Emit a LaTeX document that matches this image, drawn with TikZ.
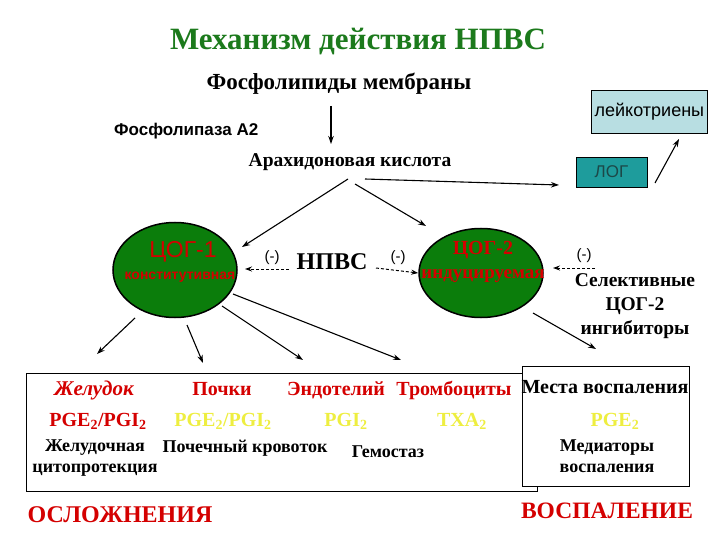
\documentclass[tikz,border=0pt]{standalone}
\usepackage{fontspec}
\setmainfont{Liberation Serif}
\newfontfamily\arialf{Liberation Sans}
\usetikzlibrary{arrows.meta,shapes.geometric}
\definecolor{ttlgreen}{HTML}{1C7A1C}
\definecolor{cogfill}{HTML}{0B7D0B}
\definecolor{redtxt}{HTML}{D40000}
\definecolor{yeltxt}{HTML}{EEEE40}
\definecolor{leukfill}{HTML}{B8DEE2}
\definecolor{logfill}{HTML}{1E9C9C}
\definecolor{logtxt}{HTML}{1C4848}
\newcommand{\fsz}[1]{\fontsize{#1}{#1}\selectfont}
\begin{document}
\begin{tikzpicture}[x=1pt,y=-1pt,
  arr/.style={line width=1.1pt,-{Stealth[length=8pt,width=5.5pt]}},
  darr/.style={line width=1pt,dashed,dash pattern=on 3pt off 2pt,-{Stealth[length=7pt,width=5pt]}},
  sb/.style={font=\bfseries\fsz{#1}, inner sep=0pt},
  sb2/.style={font=\bfseries\fontsize{#1}{21}\selectfont, inner sep=0pt, align=center},
  cog/.style={ellipse,draw=black,line width=1.5pt,fill=cogfill,inner sep=0pt},
  box/.style={draw=black,line width=1pt},
  minus/.style={font=\arialf\fsz{15},inner sep=0pt}]
\useasboundingbox (0,0) rectangle (720,540);

% title and top
\node[sb=31,text=ttlgreen] (title) at (358,42) {Механизм действия НПВС};
\node[sb=23] (phos) at (339,84) {Фосфолипиды мембраны};
\node[font=\arialf\bfseries\fsz{17},inner sep=0pt,anchor=west] (pla) at (114,131) {Фосфолипаза А2};
\node[sb=19.5] (arach) at (350,162) {Арахидоновая кислота};

\node[box,line width=0.8pt,fill=leukfill,minimum width=116pt,minimum height=43pt,inner sep=0pt,
  font=\arialf\fsz{18},anchor=north west] (leuk) at (591,90) {лейкотриены};
\node[box,line width=0.8pt,fill=logfill,minimum width=71pt,minimum height=30pt,inner sep=0pt,
  font=\arialf\fsz{17},text=logtxt] (log) at (611.5,172) {ЛОГ};

% COX ellipses
\node[cog,minimum width=124pt,minimum height=95pt] (cog1) at (175,270) {};
\node[cog,minimum width=124pt,minimum height=89pt] (cog2) at (481,273) {};
\node[font=\arialf\fsz{23},text=redtxt,inner sep=0pt] (cog1t) at (183,252) {ЦОГ-1};
\node[font=\arialf\bfseries\fsz{14},text=redtxt,inner sep=0pt] (cog1s) at (180,277) {конститутивная};
\node[sb=20,text=redtxt] (cog2t) at (483,250) {ЦОГ-2};
\node[sb=19,text=redtxt] (cog2s) at (483,276) {индуцируемая};

\node[sb=24] (npvs) at (332,262) {НПВС};
\node[minus] (m1) at (272,258) {(-)};
\node[minus] (m2) at (398,258) {(-)};
\node[minus] (m3) at (584,256) {(-)};
\node[font=\bfseries\fontsize{19.5}{24}\selectfont,inner sep=0pt,align=center] (sel) at (635,306) {Селективные\\ЦОГ-2\\ингибиторы};

% connectors top
\coordinate (p1) at (331,106);
\coordinate (p2) at (331,144);
\draw[arr] (p1) -- (p2);
\coordinate (a1s) at (348,179);
\coordinate (a1e) at (242,247);
\draw[arr] (a1s) -- (a1e);
\coordinate (a2s) at (355,184);
\coordinate (a2e) at (426,226);
\draw[arr] (a2s) -- (a2e);
\coordinate (a3s) at (365,179);
\coordinate (a3e) at (559,185);
\draw[arr] (a3s) -- (a3e);
\coordinate (l1s) at (655,183);
\coordinate (l1e) at (679,139);
\draw[arr] (l1s) -- (l1e);

% dashed inhibition arrows
\coordinate (d1s) at (289,269);
\coordinate (d1e) at (245,269);
\draw[darr] (d1s) -- (d1e);
\coordinate (d2s) at (376,268);
\draw[darr] (d2s) -- (cog2.west);
\coordinate (d3s) at (595,268);
\coordinate (d3e) at (553,268);
\draw[darr] (d3s) -- (d3e);

% arrows from COX
\coordinate (c1a) at (135,318); \coordinate (c1ae) at (97,354);
\coordinate (c1b) at (187,325); \coordinate (c1be) at (203,363);
\coordinate (c1c) at (222,306); \coordinate (c1ce) at (303,360);
\coordinate (c1d) at (233,294); \coordinate (c1de) at (401,360);
\draw[arr] (c1a) -- (c1ae);
\draw[arr] (c1b) -- (c1be);
\draw[arr] (c1c) -- (c1ce);
\draw[arr] (c1d) -- (c1de);
\coordinate (c2a) at (533,313); \coordinate (c2ae) at (596,349);
\draw[arr] (c2a) -- (c2ae);

% bottom boxes
\node[box,minimum width=511pt,minimum height=118pt,inner sep=0pt] (boxL) at (281.5,432) {};
\node[box,fill=white,minimum width=167pt,minimum height=120pt,inner sep=0pt] (boxR) at (605.5,426) {};

\node[font=\bfseries\itshape\fsz{21},text=redtxt,inner sep=0pt,anchor=base] (zhel) at (94,395) {Желудок};
\node[sb=20,text=redtxt,anchor=base] (poch) at (222,395) {Почки};
\node[sb=20,text=redtxt,anchor=base] (endo) at (336,395) {Эндотелий};
\node[sb=20,text=redtxt,anchor=base] (tromb) at (454,395) {Тромбоциты};
\node[sb=20,anchor=base] (mesta) at (605,393) {Места воспаления};

\node[sb=20,text=redtxt,anchor=base] (pg1) at (98,426) {PGE\textsubscript{2}/PGI\textsubscript{2}};
\node[sb=20,text=yeltxt,anchor=base] (pg2) at (223,426) {PGE\textsubscript{2}/PGI\textsubscript{2}};
\node[sb=20,text=yeltxt,anchor=base] (pg3) at (346,426) {PGI\textsubscript{2}};
\node[sb=20,text=yeltxt,anchor=base] (txa) at (462,426) {TXA\textsubscript{2}};
\node[sb=20,text=yeltxt,anchor=base] (pge) at (615,426) {PGE\textsubscript{2}};

\node[sb2=18,anchor=base] (zhc) at (95,472) {Желудочная\\цитопротекция};
\node[sb=18,anchor=base] (pk) at (245,452) {Почечный кровоток};
\node[sb=18,anchor=base] (gem) at (388,457) {Гемостаз};
\node[sb2=18,anchor=base] (med) at (607,472) {Медиаторы\\воспаления};

\node[sb=24,text=redtxt,anchor=base] (osl) at (120,522) {ОСЛОЖНЕНИЯ};
\node[sb=23.5,text=redtxt,anchor=base] (vosp) at (607,518) {ВОСПАЛЕНИЕ};
\end{tikzpicture}
\end{document}
